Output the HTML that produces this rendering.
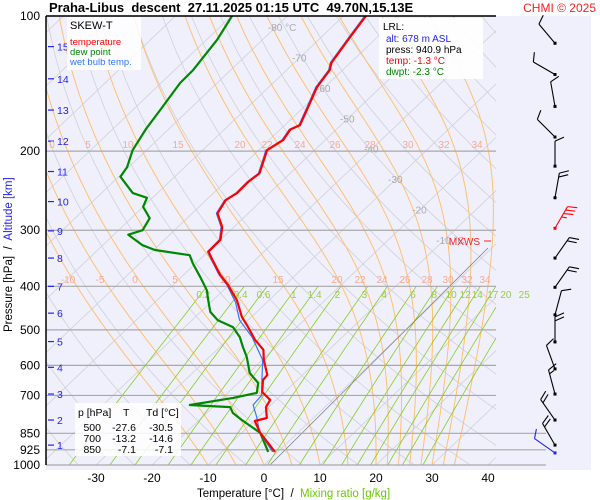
<!DOCTYPE html>
<html><head><meta charset="utf-8"><style>
body{margin:0;background:#fff;}
svg{display:block;font-family:"Liberation Sans",sans-serif;}
text{white-space:pre;}
</style></head><body>
<svg id="c" width="600" height="500" viewBox="0 0 600 500">
<rect x="46" y="16" width="545" height="454" fill="#f0f0fc"/>
<defs><clipPath id="pc"><rect x="46" y="16" width="450" height="449"/></clipPath></defs>
<g id="grid" clip-path="url(#pc)"></g>
<g id="isob"></g>
<g id="labels"></g>
<g id="prof" clip-path="url(#pc)"></g>
<g id="winds"></g>
<line x1="46" y1="16" x2="46" y2="465" stroke="#000" stroke-width="1.5"/>
<line x1="46" y1="16" x2="496" y2="16" stroke="#000" stroke-width="1.5"/>
<text x="49" y="12" font-size="13" font-weight="bold">Praha-Libus  descent  27.11.2025 01:15 UTC  49.70N,15.13E</text>
<text x="596" y="12" font-size="12" fill="#ff2020" text-anchor="end">CHMI © 2025</text>
<rect x="67" y="17" width="74" height="53" fill="#fff" opacity="0.85"/>
<text x="70" y="29" font-size="11">SKEW-T</text>
<text x="70" y="45" font-size="9.5" fill="#ff0000">temperature</text>
<text x="70" y="55" font-size="9.5" fill="#008800">dew point</text>
<text x="70" y="65" font-size="9.5" fill="#3377ff">wet bulb temp.</text>
<rect x="379" y="18" width="104" height="61" fill="#fff" opacity="0.9"/>
<text x="383" y="30" font-size="10">LRL:</text>
<text x="386" y="42" font-size="10" fill="#2222ee">alt: 678 m ASL</text>
<text x="386" y="53" font-size="10">press: 940.9 hPa</text>
<text x="386" y="64" font-size="10" fill="#ff0000">temp: -1.3 °C</text>
<text x="386" y="75" font-size="10" fill="#008800">dwpt: -2.3 °C</text>
<rect x="75" y="403" width="106" height="53" fill="#fff" opacity="0.85"/>
<g font-size="10.5">
<text x="78" y="416">p [hPa]</text><text x="123" y="416">T</text><text x="146" y="416">Td [°C]</text>
<text x="101" y="431" text-anchor="end">500</text><text x="136" y="431" text-anchor="end">-27.6</text><text x="173" y="431" text-anchor="end">-30.5</text>
<text x="101" y="442" text-anchor="end">700</text><text x="136" y="442" text-anchor="end">-13.2</text><text x="173" y="442" text-anchor="end">-14.6</text>
<text x="101" y="453" text-anchor="end">850</text><text x="136" y="453" text-anchor="end">-7.1</text><text x="173" y="453" text-anchor="end">-7.1</text>
</g>
<text x="480" y="245" font-size="10" fill="#ff2020" text-anchor="end">MXWS</text>
<line x1="484" y1="241" x2="491" y2="241" stroke="#ff2020"/>
<text x="197" y="497" font-size="11.5">Temperature [°C]  /  <tspan fill="#66cc00">Mixing ratio [g/kg]</tspan></text>
<text transform="translate(12,332) rotate(-90)" font-size="11.5">Pressure [hPa]  /  <tspan fill="#2222ee">Altitude [km]</tspan></text>
</svg>
<script>
const NS="http://www.w3.org/2000/svg";
const tempP=[935,848,798,786,743,716,688,647,630,584,554,527,493,468,429,397,377,349,335,315,295,275,257,248,234,224,206,199,189,179,175,162,144,132,127,111,100];
const tempT=[-0.5,-6.7,-9.9,-8.3,-10.5,-11.1,-14.0,-16.1,-16.3,-19.7,-21.7,-25.0,-28.7,-31.7,-35.8,-40.2,-43.5,-47.7,-49.9,-50.0,-52.1,-55.5,-56.5,-55.8,-55.9,-55.5,-57.6,-58.5,-57.5,-58.2,-57.3,-58.9,-61.4,-62.3,-63.4,-64.9,-66.0];
const dewP=[935,848,794,766,743,735,709,691,657,624,575,546,519,493,476,456,429,408,393,381,355,341,332,324,307,300,282,266,254,248,228,217,199,178,162,141,132,113,100];
const dewT=[-1.7,-6.7,-12.4,-15.3,-16.9,-24.5,-18.1,-14.8,-16.4,-19.8,-23.3,-25.9,-28.3,-31.4,-35.4,-38.3,-40.9,-43.0,-45.0,-46.7,-50.6,-52.6,-59.8,-62.9,-67.4,-65.7,-66.7,-70.0,-71.0,-74.4,-79.7,-80.3,-82.5,-84.1,-85.1,-86.6,-86.7,-88.1,-89.9];
const wbP=[935,848,782,735,699,647,584,519,476,434,397,377,349,335,315,295,275,257,248,234,224,206,199,189,179,175,162,144,132,127,111,100];
const wbT=[-0.9,-6.8,-10.3,-13.2,-13.5,-16.3,-19.9,-26.1,-31.5,-35.6,-40.4,-43.7,-47.9,-50.1,-50.2,-52.3,-55.7,-56.7,-56.0,-56.1,-55.7,-57.8,-58.7,-57.7,-58.4,-57.5,-59.1,-61.6,-62.5,-63.6,-65.1,-66.2];
const windP=[115,135,159,186,216,254,297,346,402,463,532,611,695,794,903,940];
const windDir=[320,300,350,315,360,10,30,35,35,15,360,340,345,325,330,305];
const windSpd=[10,10,10,10,10,20,35,20,20,10,20,10,15,20,20,10];
const isobars=[100,200,300,400,500,600,700,850,925,1000];
const altKm=[1,2,3,4,5,6,7,8,9,10,11,12,13,14,15];
const altP=[903,794,695,606,531,459,400,346,301,259,222,190,162,138,117];
const xTicks=[-30,-20,-10,0,10,20,30,40];
const isoT=[-80,-70,-60,-50,-40,-30,-20,-10];
const thetaW=[-10,-5,0,5,10,15,20,22,24,26,28,30,32,34];
const mixR=[0.2,0.4,0.6,1,1.4,2,3,4,6,8,10,12,14,17,20,25];

function yP(p){return 16+449*Math.log10(p/100);}
function xT(T,p){return 264+5.6*T+1.05*(465-yP(p));}
function el(tag,attrs,parent){const e=document.createElementNS(NS,tag);for(const k in attrs)e.setAttribute(k,attrs[k]);parent.appendChild(e);return e;}
const grid=document.getElementById('grid'),isob=document.getElementById('isob'),lab=document.getElementById('labels'),prof=document.getElementById('prof'),winds=document.getElementById('winds');

for(let T=-150;T<=50;T+=10){const l=el('line',{x1:xT(T,1000),y1:yP(1000),x2:xT(T,100),y2:yP(100),stroke:'#d0d0d8','stroke-width':0.8},grid);
}
for(let th=230;th<=480;th+=10){let d='';for(let p=1000;p>=100;p-=20){const T=th*Math.pow(p/1000,0.286)-273.15;d+=(p==1000?'M':'L')+xT(T,p).toFixed(1)+','+yP(p).toFixed(1);}
const l=el('path',{d:d,fill:'none',stroke:'#d0d0d8','stroke-width':0.8},grid);}
function es(T){return 6.112*Math.exp(17.67*T/(T+243.5));}
thetaW.forEach(tw=>{let T=tw+273.15,p=1000,d='M'+xT(tw,1000).toFixed(1)+','+yP(1000).toFixed(1);
 while(p>100){const e=es(T-273.15),rs=0.622*e/(p-e);const Lv=2.5e6,Rd=287,cp=1004;
 const dTdp=(Rd*T+Lv*rs)/(p*(cp+Lv*Lv*rs*0.622/(Rd*T*T)));const dp=-5;T+=dTdp*dp;p+=dp;
 d+='L'+xT(T-273.15,p).toFixed(1)+','+yP(p).toFixed(1);}
 const l=el('path',{d:d,fill:'none',stroke:'#ffc070','stroke-width':1},grid);});
function tdW(w,p){const e=w*p/(622+w);const a=Math.log(e/6.112);return 243.5*a/(17.67-a);}
mixR.forEach(w=>{let d='';for(let p=1000;p>=400;p-=20){d+=(p==1000?'M':'L')+xT(tdW(w,p),p).toFixed(1)+','+yP(p).toFixed(1);}
 const l=el('path',{d:d,fill:'none',stroke:'#88cc22','stroke-width':0.8},grid);
 const t=el('text',{x:xT(tdW(w,410),410),y:298,'font-size':10,fill:'#99cc44','text-anchor':'middle'},lab);t.textContent=w;
 });
{const l=el('line',{x1:270,y1:465,x2:488,y2:248,stroke:'#777','stroke-width':0.7},grid);}
isobars.forEach(p=>{const y=yP(p);const l=el('line',{x1:46,y1:y,x2:(p>=850?546:496),y2:y,stroke:'#a8a8a8','stroke-width':1.2},isob);
 
 const t=el('text',{x:40,y:y+4,'font-size':12,'text-anchor':'end'},lab);t.textContent=p;
 });
altKm.forEach((k,i)=>{const y=yP(altP[i]);const l=el('line',{x1:48,y1:y,x2:54,y2:y,stroke:'#2222ee','stroke-width':1.2},lab);
 
 const t=el('text',{x:57,y:y+4,'font-size':10.5,fill:'#2222ee'},lab);t.textContent=k;
 });
xTicks.forEach(T=>{const t=el('text',{x:xT(T,1000),y:482,'font-size':12,'text-anchor':'middle'},lab);t.textContent=T;
 });
isoT.forEach(T=>{const yy=27+(T+80)/70*213;const p=100*Math.pow(10,(yy-16)/449);
 const t=el('text',{x:xT(T,p)-8,y:yy+4,'font-size':10,fill:'#aaaaaa','text-anchor':'start'},lab);t.textContent=(T==-80||T==-10)?T+' °C':T;
 });
const mlab200=[0,5,10,15,20,22,24,26,28,30,32,34],mx200=[52,88,128,178,240,267,300,335,370,408,444,477];
const mx400=[68,100,135,175,225,278,337,360,382,405,427,448,467,485];
mlab200.forEach((v,i)=>{const t=el('text',{x:mx200[i],y:148,'font-size':10,fill:'#f8a890','text-anchor':'middle'},lab);t.textContent=v;
 });
thetaW.forEach((v,i)=>{const t=el('text',{x:mx400[i],y:283,'font-size':10,fill:'#f8a890','text-anchor':'middle'},lab);t.textContent=v;
 });
function line(P,T,color,w,name){const d=P.map((p,i)=>(i?'L':'M')+xT(T[i],p).toFixed(1)+','+yP(p).toFixed(1)).join('');
 const l=el('path',{d:d,fill:'none',stroke:color,'stroke-width':w,'stroke-linejoin':'round'},prof);
 }
line(dewP,dewT,'#008800',2.2,'dew-point-line');
line(wbP,wbT,'#3377ff',1.2,'wet-bulb-line');
line(tempP,tempT,'#ff0000',2.2,'temperature-line');
windP.forEach((p,i)=>{const y=yP(p),x=555;const col=(p==297?'#ff0000':(p==940?'#2222ee':'#000'));
 const a=windDir[i]*Math.PI/180;const L=25;const ux=Math.sin(a),uy=-Math.cos(a);
 const g=el('g',{},winds);
 el('line',{x1:x,y1:y,x2:x+ux*L,y2:y+uy*L,stroke:col,'stroke-width':1.1},g);
 el('rect',{x:x-1.5,y:y-1.5,width:3,height:3,fill:col},g);
 let s=windSpd[i],pos=L;const px=-uy,py=ux;
 while(s>=10){const bx=x+ux*pos,by=y+uy*pos;el('line',{x1:bx,y1:by,x2:bx+px*9+ux*4,y2:by+py*9+uy*4,stroke:col,'stroke-width':1.1},g);s-=10;pos-=4;}
 if(s>=5){const bx=x+ux*pos,by=y+uy*pos;el('line',{x1:bx,y1:by,x2:bx+px*5+ux*2,y2:by+py*5+uy*2,stroke:col,'stroke-width':1.1},g);}
});
</script>
</body></html>
